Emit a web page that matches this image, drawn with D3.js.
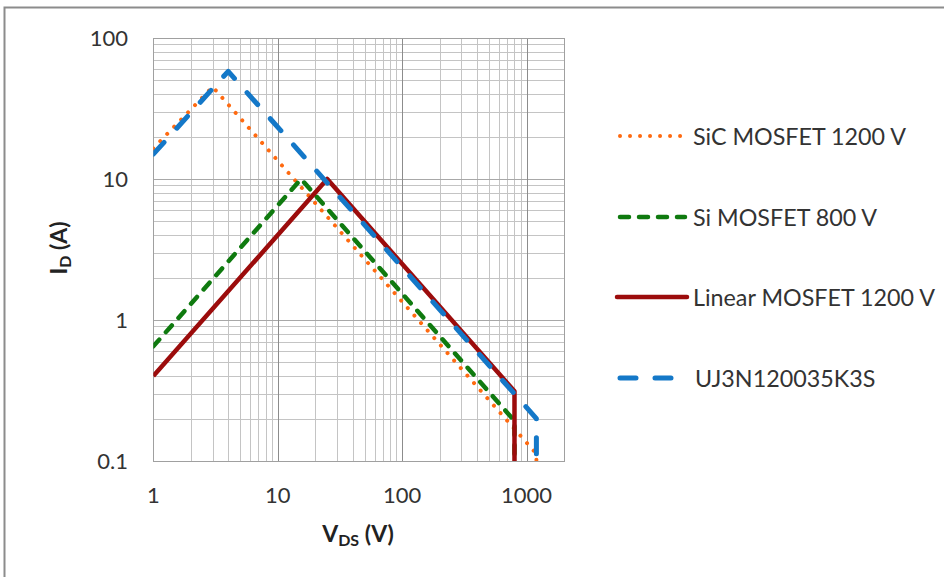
<!DOCTYPE html>
<html><head><meta charset="utf-8">
<script src="https://cdn.jsdelivr.net/npm/d3@7"></script>
<style>body{margin:0;background:#fff}svg{display:block}</style>
</head><body>
<script>
// Data
const seriesNames = ["SiC MOSFET 1200 V","Si MOSFET 800 V","Linear MOSFET 1200 V","UJ3N120035K3S"];
const sicV = [1, 3, 1200, 1200];
const sicI = [16.5, 45, 0.1125, 0.05];
const siV  = [1, 15.4, 800, 800];
const siI  = [0.65, 10, 0.1925, 0.05];
const linV = [1, 25, 800, 800];
const linI = [0.4, 10, 0.3125, 0.05];
const ujV  = [1, 4, 1200, 1200];
const ujI  = [15, 58, 0.2, 0.05];
const xTicks = [1, 10, 100, 1000];
const xTickLabels = ["1","10","100","1000"];
const yTicks = [0.1, 1, 10, 100];
const yTickLabels = ["0.1","1","10","100"];

const W = 944, H = 577;
const svg = d3.select("body").append("svg").attr("width", W).attr("height", H);
svg.append("rect").attr("x",4.5).attr("y",7.5).attr("width",1000).attr("height",700)
  .attr("fill","#fff").attr("stroke","#8c8c8c").attr("stroke-width",2);

const L = 153.3, R = 564, T = 38, B = 461;
const x = d3.scaleLog().domain([1, 2000]).range([L, R]);
const y = d3.scaleLog().domain([0.1, 100]).range([B, T]);

// grid
const g = svg.append("g");
const minorX = [], majorX = [];
for (let d = 1; d <= 1000; d *= 10) for (let m = 1; m <= 9; m++) { const v = d*m; if (v <= 2000) (m===1?majorX:minorX).push(v); }
const minorY = [], majorY = [];
for (let d = 0.1; d <= 10.001; d *= 10) for (let m = 1; m <= 9; m++) { const v = d*m; (m===1?majorY:minorY).push(v); }
majorY.push(100);
g.selectAll(".mx").data(minorX).enter().append("line")
  .attr("x1",d=>Math.round(x(d))+0.5).attr("x2",d=>Math.round(x(d))+0.5).attr("y1",T).attr("y2",B)
  .attr("stroke","#c4c4c4").attr("stroke-width",1);
g.selectAll(".my").data(minorY).enter().append("line")
  .attr("y1",d=>Math.round(y(d))+0.5).attr("y2",d=>Math.round(y(d))+0.5).attr("x1",L).attr("x2",R)
  .attr("stroke","#c4c4c4").attr("stroke-width",1);
g.selectAll(".My").data(majorY).enter().append("line")
  .attr("y1",d=>Math.round(y(d))+0.5).attr("y2",d=>Math.round(y(d))+0.5).attr("x1",L).attr("x2",R)
  .attr("stroke","#a8a8a8").attr("stroke-width",1);
g.selectAll(".Mx").data(majorX).enter().append("line")
  .attr("x1",d=>Math.round(x(d))+0.5).attr("x2",d=>Math.round(x(d))+0.5).attr("y1",T).attr("y2",B)
  .attr("stroke","#8c8c8c").attr("stroke-width",1);
g.append("rect").attr("x",Math.round(L)+0.5).attr("y",T+0.5).attr("width",Math.round(R-L)).attr("height",B-T)
  .attr("fill","none").attr("stroke","#a0a0a0").attr("stroke-width",1);

// tick labels
const font = "Lato, 'Open Sans', sans-serif";
svg.selectAll(".xt").data(xTicks).enter().append("text")
  .attr("x",d=>x(d)).attr("y",503).attr("text-anchor","middle")
  .attr("font-family",font).attr("font-size",22).attr("fill","#333")
  .text((d,i)=>xTickLabels[i]);
svg.selectAll(".yt").data(yTicks).enter().append("text")
  .attr("x",128).attr("y",d=>y(d)+8).attr("text-anchor","end")
  .attr("font-family",font).attr("font-size",22).attr("fill","#333")
  .text((d,i)=>yTickLabels[i]);

// axis titles
const xt = svg.append("text").attr("x",358).attr("y",542).attr("text-anchor","middle")
  .attr("font-family",font).attr("font-size",23).attr("font-weight","bold").attr("fill","#222");
xt.append("tspan").text("V");
xt.append("tspan").attr("font-size",16).attr("dy",4).text("DS");
xt.append("tspan").attr("dy",-4).text(" (V)");
const yt = svg.append("text").attr("transform","translate(67,248) rotate(-90)").attr("text-anchor","middle")
  .attr("font-family",font).attr("font-size",23).attr("font-weight","bold").attr("fill","#222");
yt.append("tspan").text("I");
yt.append("tspan").attr("font-size",16).attr("dy",4).text("D");
yt.append("tspan").attr("dy",-4).text(" (A)");

// series
svg.append("clipPath").attr("id","clip").append("rect").attr("x",L).attr("y",T-10).attr("width",R-L).attr("height",B-T+10);
const styles = [
  {V:sicV, I:sicI, color:"#ff6a10", width:4, dash:"0.01,10", cap:"round"},
  {V:siV,  I:siI,  color:"#0f7a0f", width:4.5, dash:"9,10", cap:"round"},
  {V:linV, I:linI, color:"#9c0c0c", width:4.5, dash:null, cap:"butt"},
  {V:ujV,  I:ujI,  color:"#1478c8", width:5, dash:"16,19", cap:"round"}
];
const line = d3.line().x(d=>x(d[0])).y(d=>y(d[1]));
const plot = svg.append("g").attr("clip-path","url(#clip)");
styles.forEach(s => {
  const pts = s.V.map((v,i)=>[v, s.I[i]]);
  plot.append("path").attr("d", line(pts)).attr("fill","none")
    .attr("stroke", s.color).attr("stroke-width", s.width)
    .attr("stroke-dasharray", s.dash).attr("stroke-linecap", s.cap).attr("stroke-linejoin","round");
});

// legend
const legY = [136, 217, 297, 378];
const leg = svg.append("g");
styles.forEach((s,i) => {
  leg.append("line").attr("x1",s.cap==="round"?620:617).attr("x2",s.cap==="round"?685:687)
    .attr("y1",legY[i]).attr("y2",legY[i])
    .attr("stroke",s.color).attr("stroke-width",s.width).attr("stroke-dasharray",s.dash).attr("stroke-linecap",s.cap==="butt"?"round":s.cap);
  leg.append("text").attr("x", i===3?693+2:693).attr("y",legY[i]+9)
    .attr("font-family",font).attr("font-size",23.3).attr("fill","#333").text(seriesNames[i]);
});
</script>
</body></html>
